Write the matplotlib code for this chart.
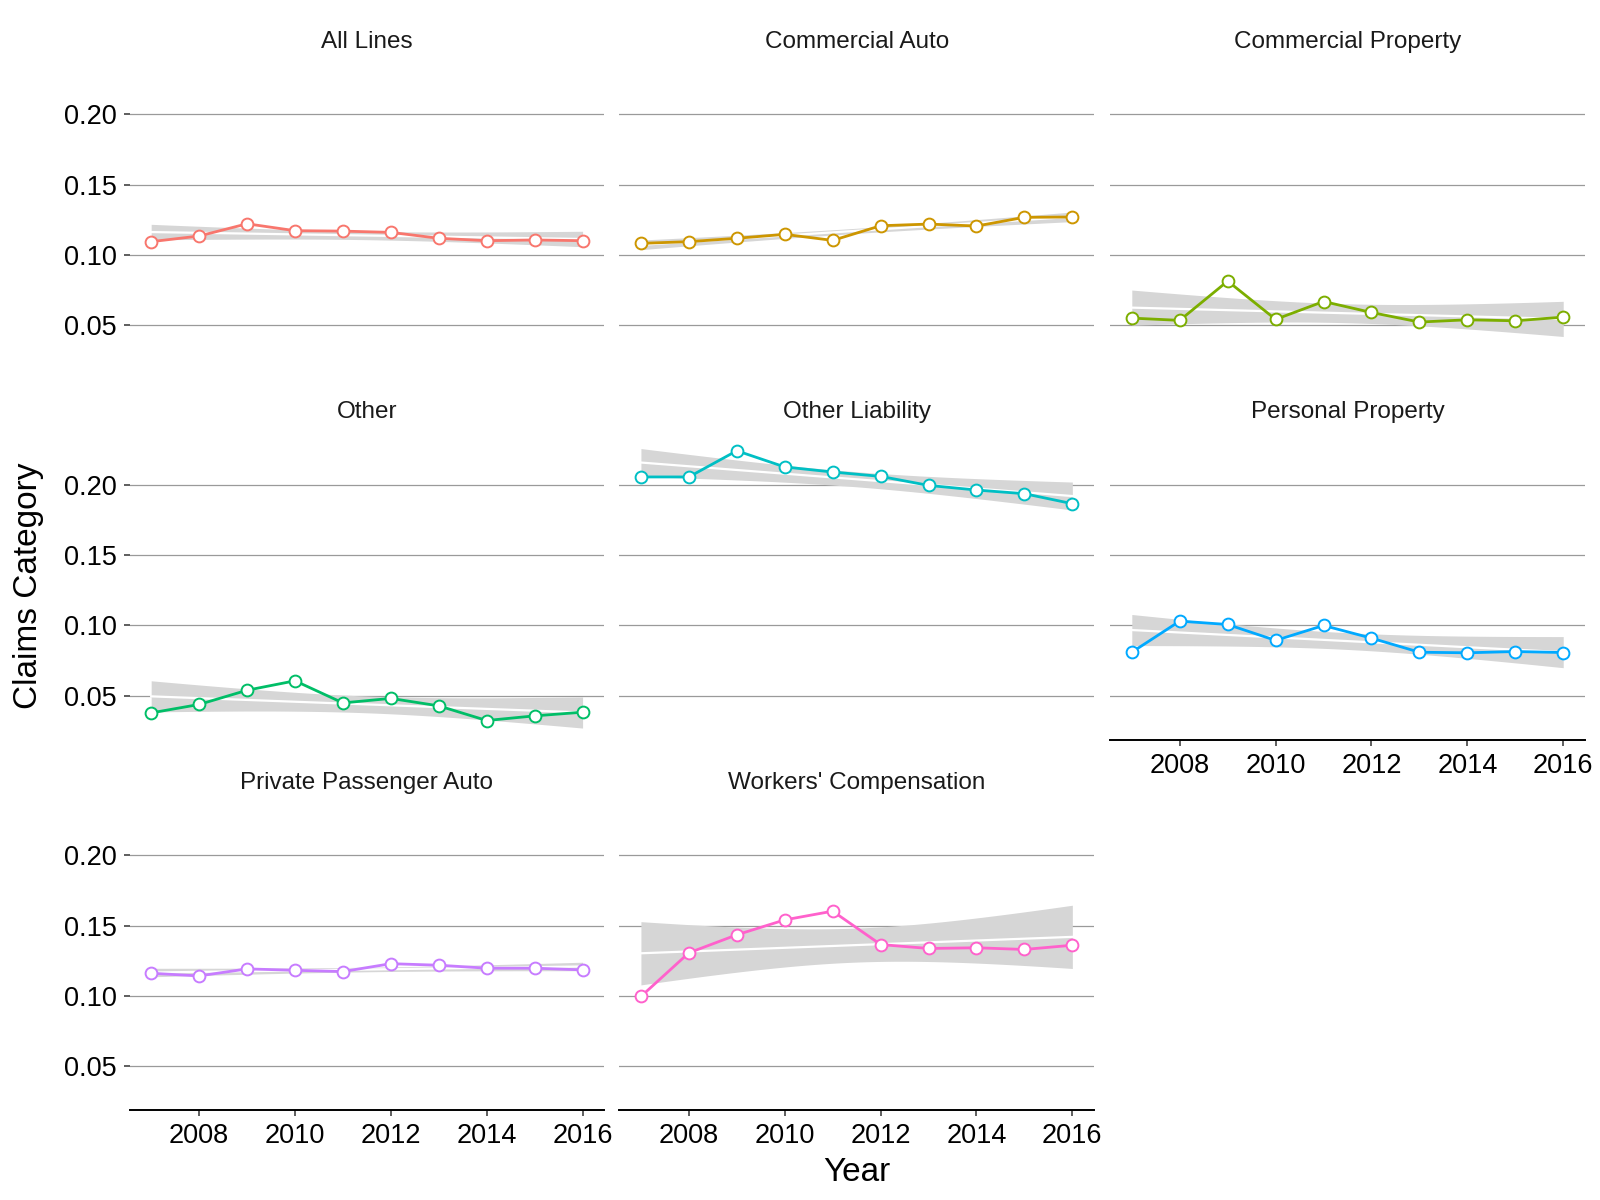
#!/usr/bin/env python3
"""
Faceted claims-category trends (2007-2016), one small panel per line of business,
with a linear fit + 95% confidence band behind each series.
"""

import numpy as np
import matplotlib.pyplot as plt
from matplotlib.ticker import FixedLocator

plt.rcParams["font.family"] = ["Liberation Sans", "DejaVu Sans"]

years = [2007, 2008, 2009, 2010, 2011, 2012, 2013, 2014, 2015, 2016]

categories = [
    "All Lines", "Commercial Auto", "Commercial Property",
    "Other", "Other Liability", "Personal Property",
    "Private Passenger Auto", "Workers' Compensation",
]

all_lines = [0.1095, 0.1135, 0.1222, 0.1173, 0.1170, 0.1161, 0.1119, 0.1102, 0.1107, 0.1102]
commercial_auto = [0.1083, 0.1095, 0.1119, 0.1147, 0.1104, 0.1208, 0.1220, 0.1206, 0.1268, 0.1270]
commercial_property = [0.0552, 0.0536, 0.0815, 0.0543, 0.0670, 0.0592, 0.0524, 0.0540, 0.0533, 0.0559]
other = [0.0379, 0.0439, 0.0540, 0.0607, 0.0450, 0.0482, 0.0429, 0.0325, 0.0358, 0.0384]
other_liability = [0.2055, 0.2055, 0.2241, 0.2126, 0.2090, 0.2059, 0.1995, 0.1962, 0.1936, 0.1865]
personal_property = [0.0810, 0.1031, 0.1007, 0.0894, 0.1000, 0.0910, 0.0810, 0.0806, 0.0815, 0.0808]
private_passenger_auto = [0.1161, 0.1142, 0.1192, 0.1182, 0.1173, 0.1229, 0.1218, 0.1197, 0.1197, 0.1185]
workers_comp = [0.0996, 0.1306, 0.1434, 0.1540, 0.1602, 0.1365, 0.1337, 0.1342, 0.1330, 0.1360]

series = [all_lines, commercial_auto, commercial_property, other,
          other_liability, personal_property, private_passenger_auto, workers_comp]

y_ticks = [0.05, 0.10, 0.15, 0.20]
y_tick_labels = ["0.05", "0.10", "0.15", "0.20"]
x_ticks = [2008, 2010, 2012, 2014, 2016]

# ggplot default hue palette for 8 groups
COLORS = ["#F8766D", "#CD9600", "#7CAE00", "#00BE67",
          "#00BFC4", "#00A9FF", "#C77CFF", "#FF61CC"]
BAND = "#D6D6D6"
GRID = "#9A9A9A"

T_975_DF8 = 2.306  # qt(0.975, df = n - 2) for n = 10


def lm_band(x, y, n_out=80):
    x = np.asarray(x, float)
    y = np.asarray(y, float)
    b, a = np.polyfit(x, y, 1)
    resid = y - (a + b * x)
    s = np.sqrt(np.sum(resid ** 2) / (len(x) - 2))
    sxx = np.sum((x - x.mean()) ** 2)
    xs = np.linspace(x.min(), x.max(), n_out)
    fit = a + b * xs
    se = s * np.sqrt(1 / len(x) + (xs - x.mean()) ** 2 / sxx)
    return xs, fit, fit - T_975_DF8 * se, fit + T_975_DF8 * se


LEFTS = [0.081, 0.3871, 0.6939]
BOTTOMS = [0.6922, 0.3835, 0.0748]
W, H = 0.2966, 0.2560

fig = plt.figure(figsize=(16, 12), dpi=100)

for i, (name, vals) in enumerate(zip(categories, series)):
    r, c = divmod(i, 3)
    ax = fig.add_axes([LEFTS[c], BOTTOMS[r], W, H])

    xs, fit, lo, hi = lm_band(years, vals)
    ax.fill_between(xs, lo, hi, color=BAND, linewidth=0, zorder=1)
    ax.plot(xs, fit, color="white", linewidth=1.6, zorder=2)

    ax.plot(years, vals, color=COLORS[i], linewidth=2.0, zorder=3,
            marker="o", markersize=8.5, markerfacecolor="white",
            markeredgecolor=COLORS[i], markeredgewidth=1.4)

    ax.set_xlim(2006.55, 2016.45)
    ax.set_ylim(0.0188, 0.237)

    ax.yaxis.set_major_locator(FixedLocator(y_ticks))
    ax.xaxis.set_major_locator(FixedLocator(x_ticks))
    ax.grid(axis="y", color=GRID, linewidth=0.9)
    ax.set_axisbelow(True)

    for side in ("top", "right", "left", "bottom"):
        ax.spines[side].set_visible(False)

    if c == 0:
        ax.set_yticklabels(y_tick_labels)
        ax.tick_params(axis="y", length=4.5, width=1.1, color="#333333",
                       labelsize=19.5, labelcolor="black", pad=5)
    else:
        ax.tick_params(axis="y", left=False, labelleft=False)

    bottom_panel = (r == 2) or (r == 1 and c == 2)
    if bottom_panel:
        ax.spines["bottom"].set_visible(True)
        ax.spines["bottom"].set_linewidth(1.4)
        ax.spines["bottom"].set_color("black")
        ax.tick_params(axis="x", length=4.5, width=1.1, color="#333333",
                       labelsize=19.5, labelcolor="black", pad=5)
    else:
        ax.tick_params(axis="x", bottom=False, labelbottom=False)

    ax.text(0.5, 1.066, name, transform=ax.transAxes, ha="center", va="center",
            fontsize=17.5, color="#1A1A1A")

fig.text(0.5357, 0.023, "Year", ha="center", va="center", fontsize=24)
fig.text(0.0179, 0.5115, "Claims Category", ha="center", va="center",
         rotation=90, fontsize=24)

fig.savefig("out.png", dpi=100, facecolor="white")
